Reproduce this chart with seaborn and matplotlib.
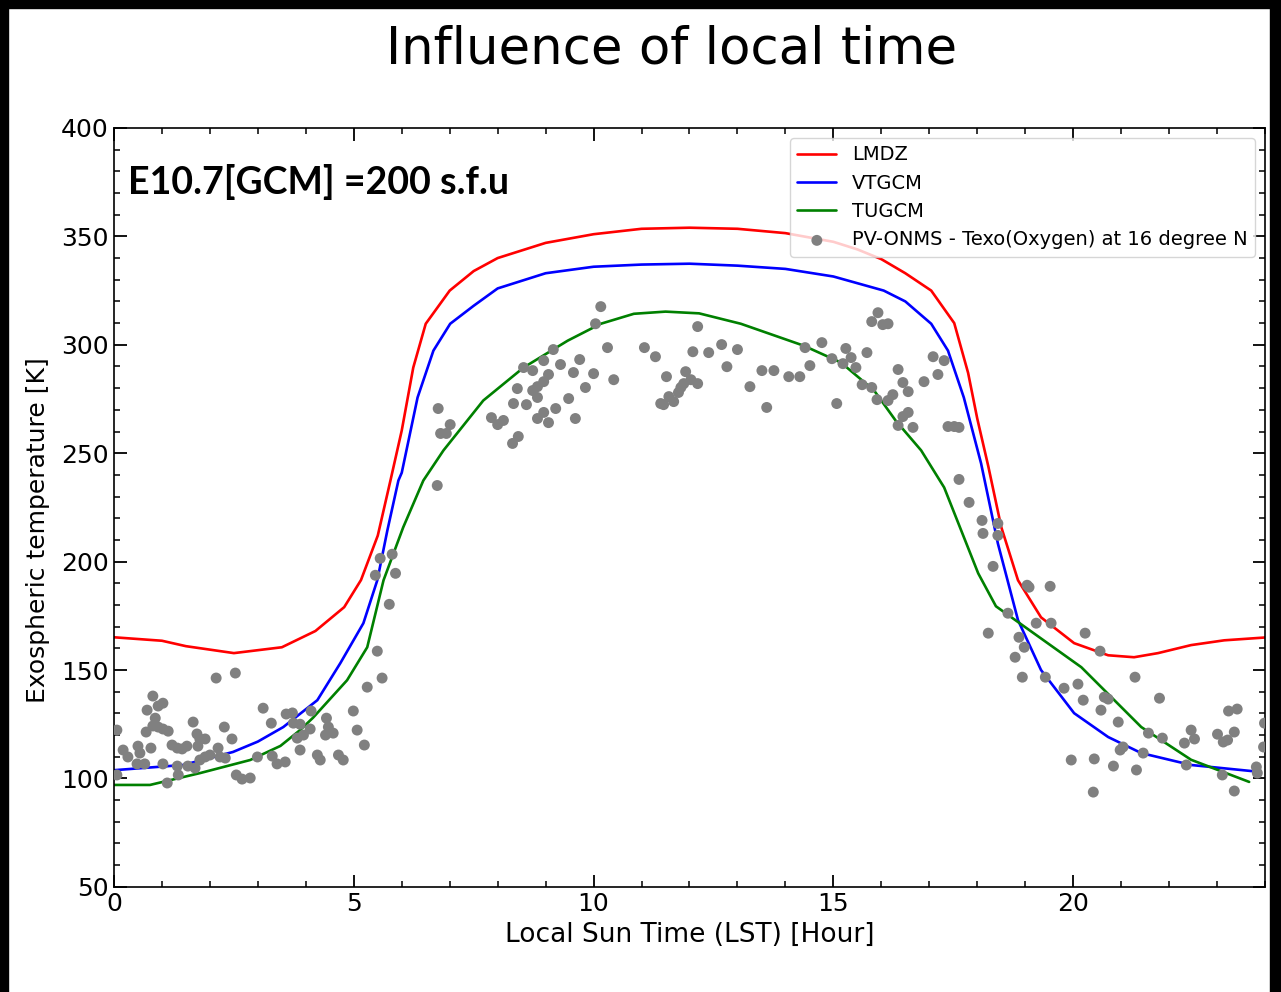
import numpy as np
import pandas as pd
import matplotlib
matplotlib.use("Agg")
import matplotlib.pyplot as plt
import seaborn as sns
from matplotlib.patches import Rectangle
from matplotlib.ticker import MultipleLocator

# ---------------- data ----------------
lmdz_hour = [0, 1.0, 1.5, 2.5, 3.5, 4.2, 4.8, 5.15, 5.5, 5.76, 6.0, 6.24, 6.5, 7.0, 7.5, 8, 9, 10, 11, 12,
             13, 14, 15, 15.5, 16, 16.5, 17.04, 17.52, 17.81, 18.0, 18.23, 18.5, 18.85, 19.33, 20.02,
             20.73, 21.27, 21.77, 22.46, 23.15, 24]
lmdz_temp = [165.1, 163.5, 161, 157.8, 160.5, 168, 179, 191.5, 212, 237, 260.5, 289.5, 309.7, 325, 334, 340, 347,
             351, 353.5, 354, 353.5, 351.5, 347.5, 344, 339.5, 333, 325, 310, 287, 266, 244, 216, 191.4,
             174.3, 162.4, 156.8, 155.9, 157.8, 161.5, 163.7, 165]

vtgcm_hour = [0, 1.44, 2.48, 3.0, 3.53, 4.24, 4.72, 5.2, 5.49, 5.70, 5.93, 6.0, 6.33, 6.66, 7.01, 7.5, 8, 9, 10,
              11, 12, 13, 14, 15, 16.05, 16.5, 17.04, 17.39, 17.72, 18.08, 18.43, 18.85, 19.33, 20.02,
              20.73, 21.42, 22.46, 23.72]
vtgcm_temp = [103.8, 106.2, 112.2, 117, 123.7, 136.1, 153.2, 171.6, 191.4, 214.4, 237.4, 241, 275.7, 297.3,
              309.7, 318, 326, 333, 336, 337, 337.4, 336.5, 335, 331.5, 325, 320, 309.7, 297.3, 275.7,
              245.3, 208.4, 173, 150, 130.1, 119.1, 111.7, 106.2, 103.4]

tugcm_hour = [0, 0.75, 1.8, 2.84, 3.47, 3.88, 4.15, 4.86, 5.28, 5.62, 6.03, 6.45, 6.87, 7.7, 8.54, 9.46,
              10.15, 10.84, 11.5, 12.2, 13.07, 14.38, 15.16, 15.85, 16.3, 16.83, 17.31, 17.83, 18.02,
              18.39, 20.17, 21.42, 22.46, 23.67]
tugcm_temp = [97, 97, 102.5, 108.5, 115, 122.3, 128, 145.3, 160.5, 191.4, 215.8, 237.4, 251.3, 274.3,
              289.5, 301.9, 309.7, 314.3, 315.3, 314.5, 309.7, 299.6, 291.8, 278.9, 265, 251.3, 234.2,
              205.2, 194.6, 179.4, 151.3, 123.7, 108.6, 98.4]

obs_hour = [0.06, 0.06, 0.19, 0.29, 0.48, 0.50, 0.54, 0.64, 0.77, 0.67, 0.69, 0.81, 0.92, 1.02, 0.86, 0.81,
            0.92, 1.02, 1.13, 1.02, 1.11, 1.21, 1.32, 1.42, 1.52, 1.32, 1.34, 1.54, 1.69, 1.65, 1.73, 1.79,
            1.90, 1.75, 1.79, 1.90, 2.00, 2.13, 2.53, 2.17, 2.21, 2.32, 2.30, 2.46, 2.55, 2.67, 2.84, 2.99,
            3.11, 3.28, 3.30, 3.40, 3.57, 3.59, 3.72, 3.74, 3.88, 3.82, 3.95, 3.88, 4.09, 4.11, 4.24, 4.30,
            4.43, 4.47, 4.41, 4.57, 4.68, 4.78, 4.99, 5.07, 5.22, 5.28, 5.49, 5.59, 5.45, 5.55, 5.80, 5.87,
            5.74, 6.74, 6.76, 7.01, 6.81, 6.93,
            7.87, 8.00, 8.12, 8.31, 8.43, 8.33, 8.41, 8.54, 8.73, 8.60, 8.73, 8.83, 8.83, 8.83, 8.96, 8.96,
            8.96, 9.06, 9.06, 9.16, 9.21, 9.31, 9.48, 9.58, 9.62, 9.71, 9.83, 10.00, 10.04, 10.15, 10.29,
            10.42, 11.06, 11.29, 11.40, 12.17, 12.07, 12.40, 12.67, 13.00, 12.78, 11.52, 11.92, 12.03,
            12.17, 11.88, 11.82, 11.77, 11.57, 11.46, 11.67, 13.26, 13.51, 13.76, 13.61, 14.07, 14.30,
            14.41, 14.51, 14.76, 14.97, 15.07, 15.26, 15.20, 15.37, 15.47, 15.70, 15.93, 15.80, 16.03,
            16.14, 15.60, 15.80, 15.91, 16.14, 16.24, 16.35, 16.45, 16.56, 16.89, 17.08, 17.31, 17.18,
            16.45, 16.56, 16.35, 16.66, 17.39, 17.52, 17.62, 17.62, 17.83, 18.10, 18.12, 18.43, 18.43,
            18.33, 19.04, 19.08, 19.52, 18.23, 18.64, 18.87, 18.98, 19.23, 19.54, 18.79, 18.94, 19.42,
            20.25, 20.56, 19.81, 20.10, 20.21, 20.65, 20.73, 20.58, 20.94, 21.29, 21.80, 19.96, 20.44,
            20.42, 20.84, 20.98, 21.04, 21.32, 21.46, 21.57, 21.86, 22.32, 22.46, 22.53, 22.36, 23.01,
            23.13, 23.22, 23.36, 23.24, 23.42, 23.11, 23.36, 23.82, 23.84, 23.99, 23.97]
obs_texo = [122.3, 101.6, 113.1, 109.9, 106.7, 114.9, 111.7, 106.7, 114.0, 121.4, 131.5, 138.0, 133.4, 134.7,
            127.8, 124.2, 123.7, 122.8, 121.8, 106.7, 97.9, 115.4, 114.0, 113.6, 114.9, 105.7, 101.6, 105.7,
            104.8, 126.0, 120.5, 118.2, 118.2, 114.9, 108.5, 109.9, 110.8, 146.3, 148.6, 114.0, 109.9, 109.4,
            123.7, 118.2, 101.6, 99.7, 100.2, 109.9, 132.4, 125.5, 110.3, 106.7, 107.6, 129.7, 130.2, 125.5,
            125.0, 118.6, 120.0, 113.1, 122.8, 131.1, 110.8, 108.5, 127.8, 123.7, 120.0, 120.9, 110.8, 108.5,
            131.1, 122.3, 115.4, 142.1, 158.7, 146.3, 193.7, 201.5, 203.4, 194.6, 180.3, 235.1, 270.6, 263.2,
            259.1, 259.1,
            266.4, 263.2, 265.1, 254.5, 257.7, 272.9, 279.8, 289.5, 288.1, 272.4, 278.9, 280.7, 275.7, 266.0,
            292.7, 283.0, 268.8, 286.3, 264.1, 297.8, 270.6, 290.9, 275.2, 287.2, 266.0, 293.2, 280.3, 286.7,
            309.7, 317.6, 298.7, 283.9, 298.7, 294.5, 272.9, 308.4, 296.8, 296.4, 300.1, 297.8, 289.9, 285.3,
            287.6, 283.9, 282.1, 282.1, 280.3, 278.0, 276.1, 272.4, 273.8, 280.7, 288.1, 288.1, 271.1, 285.3,
            285.3, 298.7, 290.4, 301.0, 293.6, 272.9, 298.3, 291.3, 294.1, 289.5, 296.4, 314.8, 310.7, 309.3,
            309.7, 281.6, 280.3, 274.7, 274.3, 277.0, 288.6, 282.6, 278.4, 283.0, 294.5, 292.7, 286.3, 266.9,
            268.8, 262.8, 261.9, 262.3, 262.3, 261.9, 237.9, 227.3, 219.0, 213.0, 217.6, 212.1, 197.8, 189.1,
            188.2, 188.6, 167.0, 176.2, 165.1, 160.5, 171.6, 171.6, 155.9, 146.7, 146.7, 167.0, 158.7, 141.6,
            143.5, 136.1, 137.5, 136.6, 131.5, 126.0, 146.7, 137.0, 108.5, 109.0, 93.7, 105.7, 113.1, 114.5,
            103.9, 111.7, 120.9, 118.6, 116.3, 122.3, 118.2, 106.2, 120.4, 116.8, 117.7, 121.4, 131.1, 132.0,
            101.6, 94.2, 105.3, 102.5, 125.5, 114.5]

x_ticks = [0, 5, 10, 15, 20]
y_ticks = [50, 100, 150, 200, 250, 300, 350, 400]

title = "Influence of local time"
annotation = "E10.7[GCM] =200 s.f.u"
obs_label = "PV-ONMS - Texo(Oxygen) at 16 degree N"

# ---------------- plot ----------------
sns.set_theme(style="ticks")
plt.rcParams["font.family"] = ["DejaVu Sans"]
plt.rcParams["text.color"] = "black"
plt.rcParams["axes.labelcolor"] = "black"
plt.rcParams["xtick.color"] = "black"
plt.rcParams["ytick.color"] = "black"

fig = plt.figure(figsize=(12.81, 9.92), dpi=100)
ax = fig.add_axes([0.089, 0.106, 0.8985, 0.765])

for hrs, tmp, col, lab in [(lmdz_hour, lmdz_temp, "red", "LMDZ"),
                           (vtgcm_hour, vtgcm_temp, "blue", "VTGCM"),
                           (tugcm_hour, tugcm_temp, "green", "TUGCM")]:
    sns.lineplot(x=hrs, y=tmp, color=col, linewidth=1.9, label=lab, ax=ax,
                 estimator=None, sort=False)

sns.scatterplot(x=obs_hour, y=obs_texo, color="grey", s=62, edgecolor="none",
                label=obs_label, ax=ax, zorder=3)

ax.set_xlim(0, 24)
ax.set_ylim(50, 400)
ax.set_xticks(x_ticks)
ax.set_yticks(y_ticks)
ax.xaxis.set_minor_locator(MultipleLocator(1))
ax.yaxis.set_minor_locator(MultipleLocator(10))
ax.tick_params(which="both", direction="in", top=True, right=True, colors="black")
ax.tick_params(which="major", length=9, width=1.3, labelsize=18, pad=4)
ax.tick_params(which="minor", length=4.5, width=1.1)
for sp in ax.spines.values():
    sp.set_color("black")
    sp.set_linewidth(1.2)

ax.set_xlabel("Local Sun Time (LST) [Hour]", fontsize=19, labelpad=4)
ax.set_ylabel("Exospheric temperature [K]", fontsize=18)
ax.yaxis.set_label_coords(-0.056, 0.47)

ax.text(0.012, 0.929, annotation, transform=ax.transAxes, fontsize=27,
        fontweight="bold", family=["Lato", "DejaVu Sans"], va="center", ha="left",
        color="black")

leg = ax.legend(loc="upper right", fontsize=14, labelspacing=0.48, frameon=True,
                fancybox=True, edgecolor="0.8", framealpha=0.8, handlelength=2.0)
for t in leg.get_texts():
    t.set_color("black")

fig.text(0.524, 0.95, title, ha="center", va="center", fontsize=37, color="black")

# black frame of the original screenshot
fig.add_artist(Rectangle((0, 0), 8 / 1281, 1, transform=fig.transFigure, color="black"))
fig.add_artist(Rectangle((0, 1 - 8 / 992), 1, 8 / 992, transform=fig.transFigure, color="black"))
fig.add_artist(Rectangle((1 - 11 / 1281, 0), 11 / 1281, 1, transform=fig.transFigure, color="black"))

fig.savefig("out.png", dpi=100)
